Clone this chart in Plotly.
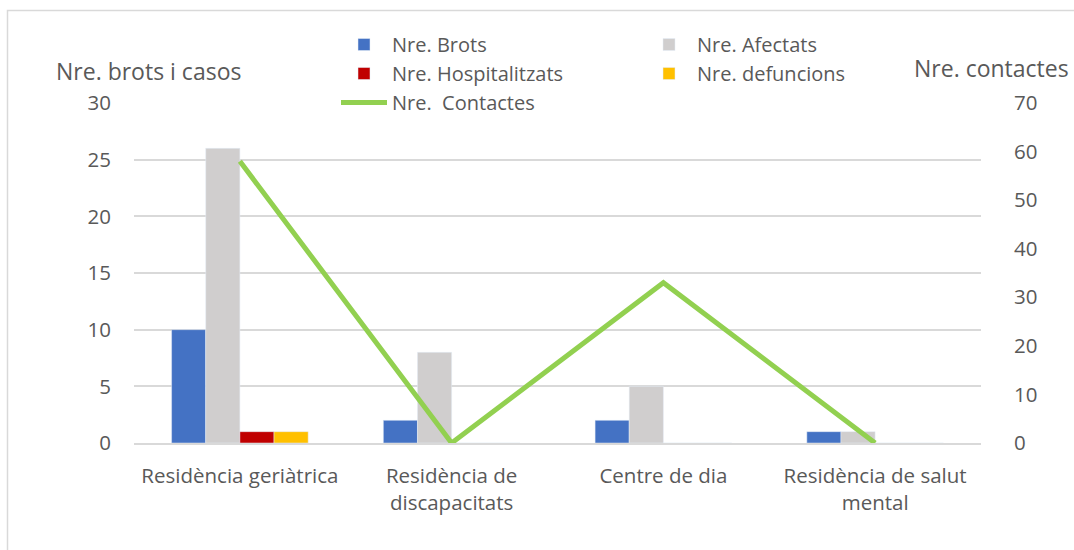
import plotly.graph_objects as go

categories = ["Residència geriàtrica", "Residència de<br>discapacitats", "Centre de dia", "Residència de salut<br>mental"]
brots = [10, 2, 2, 1]
afectats = [26, 8, 5, 1]
hospitalitzats = [1, 0, 0, 0]
defuncions = [1, 0, 0, 0]
contactes = [58, 0, 33, 0]

FONT = "Open Sans"
TXT = "#595959"
GRID = "#D9D9D9"

W, H = 1074, 550
L, R, T, B = 134, 93, 103, 107
pw = W - L - R
ph = H - T - B


def px_x(p):
    return (p - L) / pw


def px_y(p):
    return (H - B - p) / ph


fig = go.Figure()
fig.add_bar(x=categories, y=brots, name="Nre. Brots", marker_color="#4472C4", yaxis="y")
fig.add_bar(x=categories, y=afectats, name="Nre. Afectats", marker_color="#D0CECE", yaxis="y")
fig.add_bar(x=categories, y=hospitalitzats, name="Nre. Hospitalitzats", marker_color="#C00000", yaxis="y")
fig.add_bar(x=categories, y=defuncions, name="Nre. defuncions", marker_color="#FFC000", yaxis="y")
fig.add_scatter(x=categories, y=contactes, name="Nre.  Contactes", mode="lines",
                line=dict(color="#92D050", width=5), yaxis="y2")

fig.update_layout(
    width=W, height=H,
    margin=dict(l=L, r=R, t=T, b=B),
    paper_bgcolor="white", plot_bgcolor="white",
    barmode="group", bargap=0.355, bargroupgap=0,
    font=dict(family=FONT, size=20.5, color=TXT),
    xaxis=dict(showgrid=False, showline=True, linecolor=GRID, linewidth=1.5,
               ticks="", ticklabelstandoff=14, tickfont=dict(size=20.5, color=TXT)),
    yaxis=dict(range=[0, 30], dtick=5, showgrid=True, gridcolor=GRID, gridwidth=1.5,
               zeroline=False, showline=False, ticks="", ticklabelstandoff=22,
               tickfont=dict(size=20.5, color=TXT)),
    yaxis2=dict(range=[0, 70], dtick=10, overlaying="y", side="right", showgrid=False,
                zeroline=False, showline=False, ticks="", ticklabelstandoff=32,
                tickfont=dict(size=20.5, color=TXT)),
    legend=dict(orientation="h", x=px_x(336), y=px_y(25), xanchor="left", yanchor="top",
                entrywidth=244, entrywidthmode="pixels", traceorder="normal",
                font=dict(size=20, color=TXT), bgcolor="rgba(0,0,0,0)",
                tracegroupgap=0, itemwidth=46),
    showlegend=True,
    annotations=[
        dict(text="Nre. brots i casos", xref="paper", yref="paper", x=px_x(148), y=px_y(71),
             showarrow=False, font=dict(size=23, color=TXT), xanchor="center", yanchor="middle"),
        dict(text="Nre. contactes", xref="paper", yref="paper", x=px_x(992), y=px_y(68),
             showarrow=False, font=dict(size=23, color=TXT), xanchor="center", yanchor="middle"),
    ],
    shapes=[
        dict(type="rect", xref="paper", yref="paper", x0=px_x(7.5), y0=px_y(600), x1=px_x(1200), y1=px_y(10.5),
             line=dict(color=GRID, width=1.5), fillcolor="rgba(0,0,0,0)", layer="below"),
    ],
)

fig.write_html(
    "out.html",
    config={"displayModeBar": False},
    post_script="document.body.style.margin='0';document.body.style.overflow='hidden';",
)
